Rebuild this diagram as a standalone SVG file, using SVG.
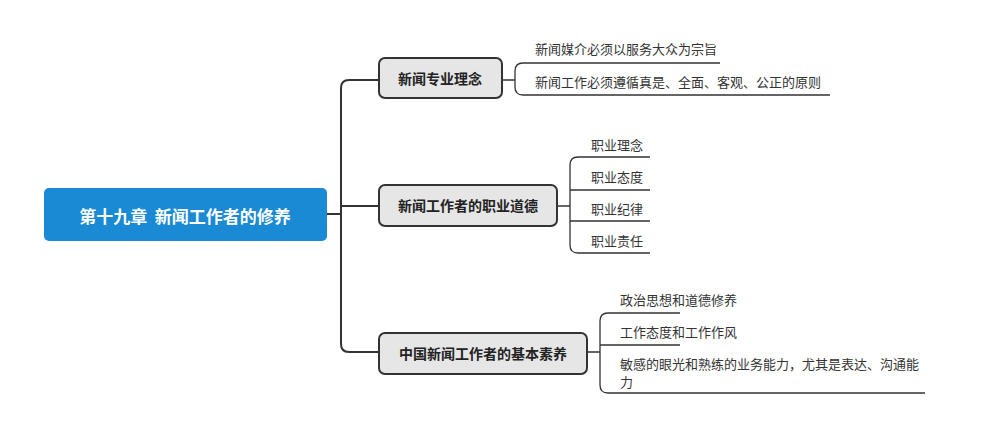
<svg xmlns="http://www.w3.org/2000/svg" width="1007" height="438" viewBox="0 0 1007 438">
<style>
.l{fill:none;stroke:#333;stroke-width:2}
.t{stroke:#333;stroke-width:1.3;fill:none}
.n{fill:#e6e6e6;stroke:#333;stroke-width:2}
.nt{font-family:"Noto Sans CJK SC",sans-serif;font-size:14px;font-weight:bold;fill:#222;text-anchor:middle;dominant-baseline:central}
.ct{font-family:"Noto Sans CJK SC",sans-serif;font-size:13px;fill:#333}
</style>
<rect width="1007" height="438" fill="#fff"/>
<g id="connectors">
<path class="l" d="M327 214H341M379 80H349Q341 80 341 88V344Q341 352 349 352H379M341 206H379"/>
<path class="t" d="M502 80H515M720 63H523Q515 63 515 71V87Q515 95 523 95H830"/>
<path class="t" d="M557 206H570M650 157H578Q570 157 570 165V245Q570 253 578 253H650M570 190H650M570 221H650"/>
<path class="t" d="M587 352H600M680 313H608Q600 313 600 321V385Q600 393 608 393H925M600 345H680"/>
</g>
<g id="root"><rect x="44" y="188" width="283" height="53" rx="5" fill="#1a8ad4"/><text x="185" y="215" xml:space="preserve" style="white-space:pre" font-family="Noto Sans CJK SC,sans-serif" font-size="17" font-weight="bold" fill="#fff" text-anchor="middle" dominant-baseline="central">第十九章  新闻工作者的修养</text></g>
<g id="n1"><rect class="n" x="379" y="58" width="123" height="40" rx="6"/><text class="nt" x="440" y="78">新闻专业理念</text></g>
<g id="n2"><rect class="n" x="379" y="185" width="178" height="41" rx="6"/><text class="nt" x="468" y="205">新闻工作者的职业道德</text></g>
<g id="n3"><rect class="n" x="379" y="333" width="208" height="41" rx="6"/><text class="nt" x="483" y="353">中国新闻工作者的基本素养</text></g>
<g id="c1"><text class="ct" x="535" y="54">新闻媒介必须以服务大众为宗旨</text><text class="ct" x="535" y="87">新闻工作必须遵循真是、全面、客观、公正的原则</text></g>
<g id="c2"><text class="ct" x="591" y="150">职业理念</text><text class="ct" x="591" y="182">职业态度</text><text class="ct" x="591" y="214">职业纪律</text><text class="ct" x="591" y="246">职业责任</text></g>
<g id="c3"><text class="ct" x="620" y="305">政治思想和道德修养</text><text class="ct" x="620" y="337">工作态度和工作作风</text><text class="ct" x="620" y="369">敏感的眼光和熟练的业务能力，尤其是表达、沟通能</text><text class="ct" x="620" y="387">力</text></g>
</svg>
